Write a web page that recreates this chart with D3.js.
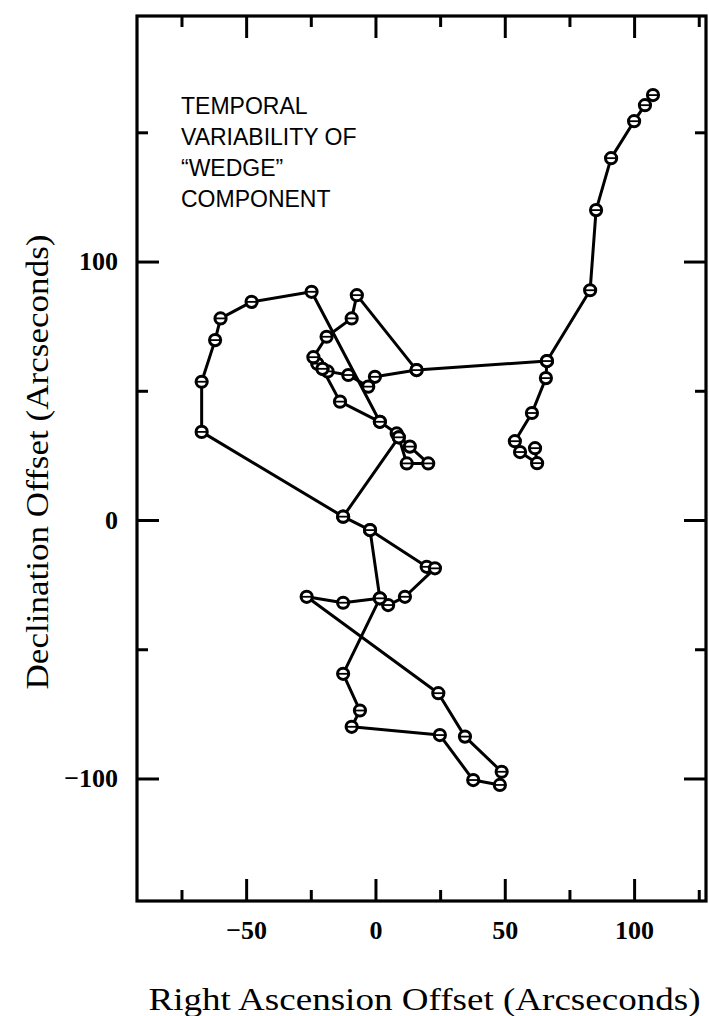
<!DOCTYPE html>
<html><head><meta charset="utf-8">
<script src="https://cdn.jsdelivr.net/npm/d3@7"></script>
<style>body{margin:0;background:#fff}svg{display:block}</style>
</head><body>
<svg id="chart" width="709" height="1016"></svg>
<script>
// ---- data (RA offset, Dec offset) in arcseconds, traced in order ----
const armTrack = [[107.3,164.4],[104.2,160.5],[100.0,154.3],[91.1,140.0],[85.3,119.9],[83.0,88.9],[66.3,61.5],[65.9,54.9],[60.5,41.4],[53.9,30.5],[55.9,26.3],[62.5,22.0],[61.7,27.8]];
const centralTrack = [[66.3,61.5],[15.9,58.0],[-0.2,55.4],[-2.8,51.6],[-10.5,56.1],[-18.5,57.5],[-20.5,58.5],[-22.5,60.5],[-24.0,63.0],[-18.9,70.9],[-9.2,78.0],[-7.2,87.0],[15.9,58.0]];
const innerTrack = [[-20.5,58.5],[-13.7,45.8],[1.7,38.0],[8.2,33.5],[13.3,28.4],[20.4,21.9],[12.1,21.9],[9.0,32.0]];
const loopTrack = [[1.7,38.0],[-24.7,88.3],[-47.9,84.4],[-59.9,78.0],[-62.0,69.6],[-67.2,53.5],[-67.2,34.1],[-12.5,1.3],[9.0,32.0]];
const southTrack = [[-12.5,1.3],[-2.1,-3.9],[19.8,-18.1],[23.0,-18.7],[11.4,-29.7],[4.9,-32.9],[1.7,-30.3],[-12.5,-32.0],[-26.6,-29.7],[24.3,-67.0],[34.6,-83.8],[48.8,-97.4],[48.1,-102.5],[37.8,-100.6],[24.9,-83.2],[-9.2,-80.0],[-6.0,-73.7],[-12.5,-59.5],[1.7,-30.3],[-2.1,-3.9]];
const tracks = [armTrack, centralTrack, innerTrack, loopTrack, southTrack];

const xMajorTicks = [-50, 0, 50, 100];
const xMinorTicks = [-75, -25, 25, 75, 125];
const yMajorTicks = [-100, 0, 100];
const yMinorTicks = [-50, 50, 150];
const xDomain = [-92.2, 127.8];
const yDomain = [-147.4, 195.0];
const noteLines = ["TEMPORAL", "VARIABILITY OF", "\u201CWEDGE\u201D", "COMPONENT"];
const xTitle = "Right Ascension Offset (Arcseconds)";
const yTitle = "Declination Offset (Arcseconds)";

// ---- layout ----
const L = 137, R = 706, T = 16, B = 901;
const svg = d3.select("#chart");
const x = d3.scaleLinear().domain(xDomain).range([L, R]);
const y = d3.scaleLinear().domain(yDomain).range([B, T]);

const serif = "'Liberation Serif','Times New Roman',serif";

function styleAxis(g){
  g.select(".domain").remove();
  g.selectAll(".tick line").attr("stroke","#000").attr("stroke-width",3);
}
const fmt = d => d < 0 ? "\u2212" + Math.abs(d) : String(d);
svg.append("g").attr("transform",`translate(0,${B})`)
  .call(d3.axisBottom(x).tickValues(xMajorTicks).tickSize(-22).tickPadding(20).tickFormat(fmt))
  .call(styleAxis)
  .selectAll("text").attr("font-family",serif).attr("font-weight","bold").attr("font-size",26).attr("fill","#000");
svg.append("g").attr("transform",`translate(0,${B})`)
  .call(d3.axisBottom(x).tickValues(xMinorTicks).tickSize(-11).tickFormat(""))
  .call(styleAxis);
svg.append("g").attr("transform",`translate(0,${T})`)
  .call(d3.axisTop(x).tickValues(xMajorTicks).tickSize(-22).tickFormat(""))
  .call(styleAxis);
svg.append("g").attr("transform",`translate(0,${T})`)
  .call(d3.axisTop(x).tickValues(xMinorTicks).tickSize(-11).tickFormat(""))
  .call(styleAxis);
svg.append("g").attr("transform",`translate(${L},0)`)
  .call(d3.axisLeft(y).tickValues(yMajorTicks).tickSize(-22).tickPadding(19).tickFormat(fmt))
  .call(styleAxis)
  .selectAll("text").attr("font-family",serif).attr("font-weight","bold").attr("font-size",26).attr("fill","#000");
svg.append("g").attr("transform",`translate(${L},0)`)
  .call(d3.axisLeft(y).tickValues(yMinorTicks).tickSize(-11).tickFormat(""))
  .call(styleAxis);
svg.append("g").attr("transform",`translate(${R},0)`)
  .call(d3.axisRight(y).tickValues(yMajorTicks).tickSize(-22).tickFormat(""))
  .call(styleAxis);
svg.append("g").attr("transform",`translate(${R},0)`)
  .call(d3.axisRight(y).tickValues(yMinorTicks).tickSize(-11).tickFormat(""))
  .call(styleAxis);

// frame
svg.append("rect").attr("x",L).attr("y",T).attr("width",R-L).attr("height",B-T)
  .attr("fill","none").attr("stroke","#000").attr("stroke-width",3.2);

// tracks
const line = d3.line().x(d=>x(d[0])).y(d=>y(d[1]));
svg.append("g").selectAll("path").data(tracks).join("path")
  .attr("d", line).attr("fill","none").attr("stroke","#000").attr("stroke-width",3).attr("stroke-linejoin","round");

// markers
const pts = tracks.flat();
const mk = svg.append("g").selectAll("g").data(pts).join("g")
  .attr("transform", d=>`translate(${x(d[0])},${y(d[1])})`);
mk.append("circle").attr("r",5.6).attr("fill","#fff").attr("stroke","#000").attr("stroke-width",3);
mk.append("line").attr("x1",-5).attr("x2",5).attr("stroke","#000").attr("stroke-width",1.8);

// note
svg.append("g").selectAll("text").data(noteLines).join("text")
  .attr("x",181).attr("y",(d,i)=>114 + i*31)
  .attr("font-family","'Liberation Sans',Arial,sans-serif").attr("font-size",23).attr("fill","#000")
  .text(d=>d);

// axis titles
svg.append("text").attr("x",(L+R)/2+3).attr("y",1010).attr("text-anchor","middle")
  .attr("font-family",serif).attr("font-size",31).attr("textLength",552).attr("lengthAdjust","spacingAndGlyphs")
  .text(xTitle);
svg.append("text").attr("transform","translate(48,462) rotate(-90)").attr("text-anchor","middle")
  .attr("font-family",serif).attr("font-size",31).attr("textLength",455).attr("lengthAdjust","spacingAndGlyphs")
  .text(yTitle);
</script>
</body></html>
